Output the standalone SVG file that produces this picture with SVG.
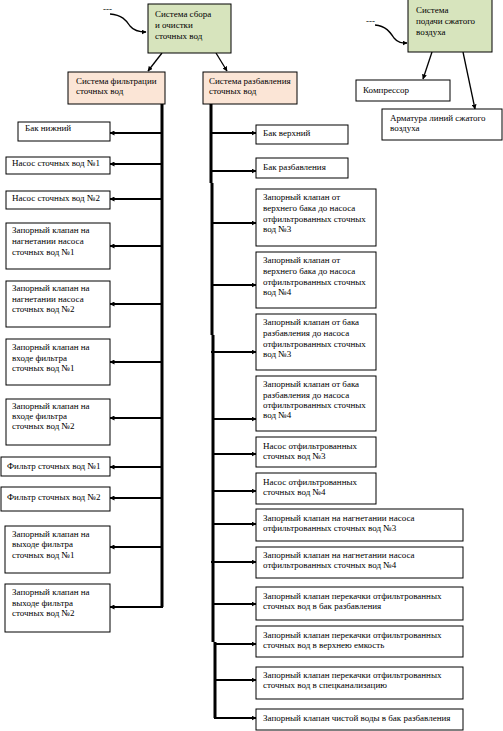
<svg xmlns="http://www.w3.org/2000/svg" width="503" height="731" viewBox="0 0 503 731">
<style>
text{font-family:"Liberation Serif","Times New Roman",serif;font-size:9px;fill:#000}
.b{fill:#fff;stroke:#000;stroke-width:1}
.g{fill:#d7e4bd;stroke:#000;stroke-width:1}
.p{fill:#fbe5d6;stroke:#000;stroke-width:1}
.t{stroke:#000;stroke-width:3;fill:none}
.h{stroke:#000;stroke-width:2;fill:none;marker-end:url(#a)}
.c{stroke:#000;stroke-width:1.3;fill:none;marker-end:url(#a)}
</style>
<defs>
<marker id="a" viewBox="0 0 10 10" refX="9" refY="5" markerWidth="5" markerHeight="5" markerUnits="userSpaceOnUse" orient="auto"><path d="M0,0L10,5L0,10z" fill="#000"/></marker>
</defs>
<rect width="503" height="731" fill="#fff"/>
<g id="connectors">
<text x="103" y="12">---</text>
<path class="c" d="M110,14C122,15 126,20 130,26C134,31 140,32 146,32"/>
<text x="366" y="24">---</text>
<path class="c" d="M375,25C386,26 390,32 394,38C398,43 402,43 407,43"/>
<path class="c" d="M162,53L148,71"/>
<path class="c" d="M216,53L227,71"/>
<path class="c" d="M432,52L423,79"/>
<path class="c" d="M463,52L475,109"/>
<path class="t" d="M162,104V607"/>
<path class="t" d="M211,104V183M212,183V335M213,335V642M215,642V718"/>
<path class="h" d="M162,133H110"/>
<path class="h" d="M162,164H110"/>
<path class="h" d="M162,199H110"/>
<path class="h" d="M162,246H110"/>
<path class="h" d="M162,304H110"/>
<path class="h" d="M162,362H110"/>
<path class="h" d="M162,418H110"/>
<path class="h" d="M162,467H110"/>
<path class="h" d="M162,498H110"/>
<path class="h" d="M162,547H110"/>
<path class="h" d="M163,607H110"/>
<path class="h" d="M211,133H256"/>
<path class="h" d="M211,171H256"/>
<path class="h" d="M212,223H256"/>
<path class="h" d="M212,285H256"/>
<path class="h" d="M211,352H256"/>
<path class="h" d="M213,419H256"/>
<path class="h" d="M213,454H256"/>
<path class="h" d="M212,491H256"/>
<path class="h" d="M213,524H256"/>
<path class="h" d="M211,562H256"/>
<path class="h" d="M213,604H256"/>
<path class="h" d="M214,644H256"/>
<path class="h" d="M215,680H256"/>
<path class="h" d="M214,718H256"/>
</g>
<g id="n-sbor"><rect class="g" x="148" y="4" width="83" height="49"/><text x="155" y="17">Система сбора</text><text x="155" y="28">и очистки</text><text x="155" y="39">сточных вод</text></g>
<g id="n-vozduh"><rect class="g" x="408" y="-1" width="84" height="53"/><text x="416" y="13">Система</text><text x="416" y="24">подачи сжатого</text><text x="416" y="35">воздуха</text></g>
<g id="n-filtr"><rect class="p" x="68" y="72" width="97" height="32"/><text x="76" y="84">Система фильтрации</text><text x="76" y="94">сточных вод</text></g>
<g id="n-razb"><rect class="p" x="203" y="72" width="94" height="32"/><text x="209" y="84">Система разбавления</text><text x="209" y="94">сточных вод</text></g>
<g id="n-kompr"><rect class="b" x="356" y="80" width="94" height="21"/><text x="363" y="93">Компрессор</text></g>
<g id="n-armat"><rect class="b" x="382" y="109" width="120" height="31"/><text x="390" y="121">Арматура линий сжатого</text><text x="390" y="131">воздуха</text></g>
<g id="l1"><rect class="b" x="18" y="122" width="92" height="19"/><text x="25" y="131">Бак нижний</text></g>
<g id="l2"><rect class="b" x="6" y="157" width="104" height="17"/><text x="12" y="166">Насос сточных вод №1</text></g>
<g id="l3"><rect class="b" x="6" y="191" width="104" height="18"/><text x="12" y="201">Насос сточных вод №2</text></g>
<g id="l4"><rect class="b" x="6" y="223" width="104" height="46"/><text x="12" y="233">Запорный клапан на</text><text x="12" y="244">нагнетании насоса</text><text x="12" y="255">сточных вод №1</text></g>
<g id="l5"><rect class="b" x="6" y="281" width="104" height="46"/><text x="12" y="291">Запорный клапан на</text><text x="12" y="302">нагнетании насоса</text><text x="12" y="312">сточных вод №2</text></g>
<g id="l6"><rect class="b" x="6" y="339" width="104" height="46"/><text x="12" y="350">Запорный клапан на</text><text x="12" y="361">входе фильтра</text><text x="12" y="371">сточных вод №1</text></g>
<g id="l7"><rect class="b" x="6" y="399" width="104" height="46"/><text x="12" y="409">Запорный клапан на</text><text x="12" y="419">входе фильтра</text><text x="12" y="429">сточных вод №2</text></g>
<g id="l8"><rect class="b" x="1" y="457" width="109" height="19"/><text x="7" y="469">Фильтр сточных вод №1</text></g>
<g id="l9"><rect class="b" x="1" y="487" width="109" height="24"/><text x="7" y="500">Фильтр сточных вод №2</text></g>
<g id="l10"><rect class="b" x="5" y="526" width="105" height="47"/><text x="12" y="537">Запорный клапан на</text><text x="12" y="547">выходе фильтра</text><text x="12" y="558">сточных вод №1</text></g>
<g id="l11"><rect class="b" x="5" y="584" width="105" height="48"/><text x="12" y="595">Запорный клапан на</text><text x="12" y="606">выходе фильтра</text><text x="12" y="616">сточных вод №2</text></g>
<g id="r1"><rect class="b" x="256" y="125" width="92" height="19"/><text x="263" y="136">Бак верхний</text></g>
<g id="r2"><rect class="b" x="256" y="158" width="92" height="20"/><text x="263" y="170">Бак разбавления</text></g>
<g id="r3"><rect class="b" x="256" y="189" width="120" height="57"/><text x="263" y="200">Запорный клапан от</text><text x="263" y="211">верхнего бака до насоса</text><text x="263" y="222">отфильтрованных сточных</text><text x="263" y="232">вод №3</text></g>
<g id="r4"><rect class="b" x="256" y="252" width="120" height="56"/><text x="263" y="263">Запорный клапан от</text><text x="263" y="274">верхнего бака до насоса</text><text x="263" y="285">отфильтрованных сточных</text><text x="263" y="295">вод №4</text></g>
<g id="r5"><rect class="b" x="256" y="314" width="120" height="56"/><text x="263" y="325">Запорный клапан от бака</text><text x="263" y="336">разбавления до насоса</text><text x="263" y="347">отфильтрованных сточных</text><text x="263" y="357">вод №3</text></g>
<g id="r6"><rect class="b" x="256" y="376" width="120" height="55"/><text x="263" y="387">Запорный клапан от бака</text><text x="263" y="398">разбавления до насоса</text><text x="263" y="408">отфильтрованных сточных</text><text x="263" y="418">вод №4</text></g>
<g id="r7"><rect class="b" x="256" y="437" width="120" height="30"/><text x="263" y="449">Насос отфильтрованных</text><text x="263" y="459">сточных вод №3</text></g>
<g id="r8"><rect class="b" x="256" y="473" width="120" height="31"/><text x="263" y="485">Насос отфильтрованных</text><text x="263" y="495">сточных вод №4</text></g>
<g id="r9"><rect class="b" x="256" y="509" width="207" height="32"/><text x="263" y="521">Запорный клапан на нагнетании насоса</text><text x="263" y="531">отфильтрованных сточных вод №3</text></g>
<g id="r10"><rect class="b" x="256" y="547" width="207" height="31"/><text x="263" y="558">Запорный клапан на нагнетании насоса</text><text x="263" y="568">отфильтрованных сточных вод №4</text></g>
<g id="r11"><rect class="b" x="256" y="587" width="207" height="33"/><text x="263" y="599">Запорный клапан перекачки отфильтрованных</text><text x="263" y="609">сточных вод в бак разбавления</text></g>
<g id="r12"><rect class="b" x="256" y="626" width="207" height="31"/><text x="263" y="638">Запорный клапан перекачки отфильтрованных</text><text x="263" y="648">сточных вод в верхнею емкость</text></g>
<g id="r13"><rect class="b" x="256" y="667" width="207" height="32"/><text x="263" y="678">Запорный клапан перекачки отфильтрованных</text><text x="263" y="688">сточных вод в спецканализацию</text></g>
<g id="r14"><rect class="b" x="256" y="709" width="207" height="21"/><text x="263" y="721">Запорный клапан чистой воды в бак разбавления</text></g>
</svg>
